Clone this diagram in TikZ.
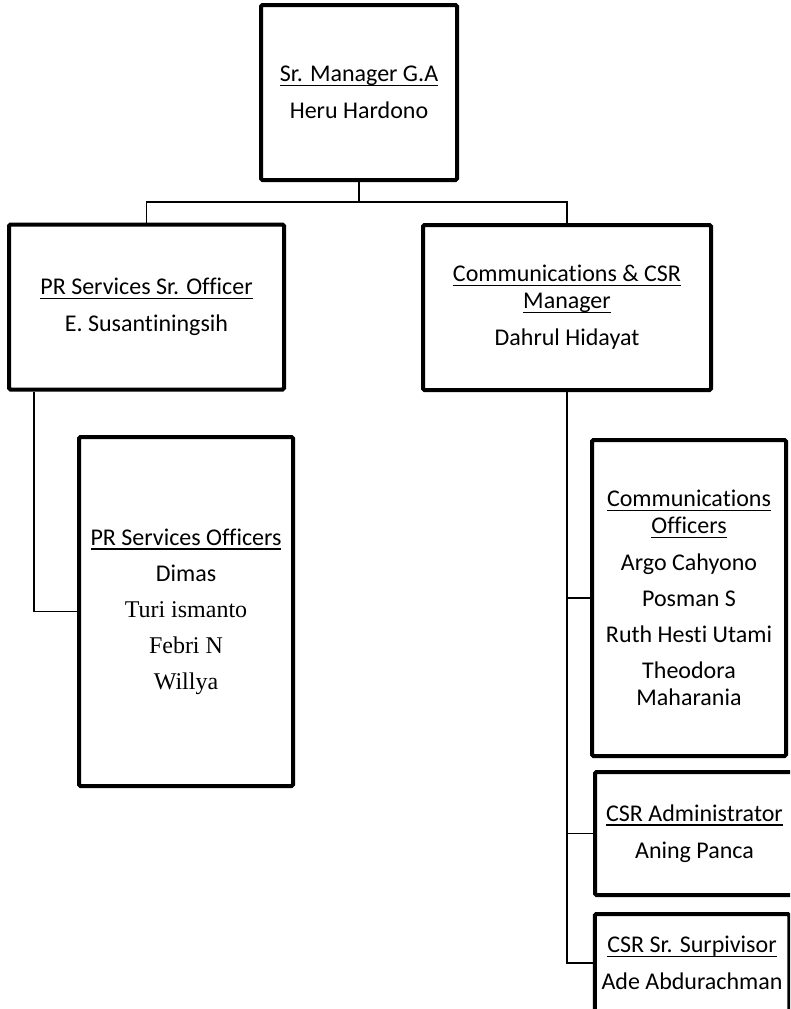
\documentclass[tikz,border=0pt]{standalone}
\usepackage{fontspec}
\setmainfont{Carlito}[Ligatures=NoCommon]
\newfontfamily\timesfont{Liberation Serif}
\usepackage{tikz}
\usetikzlibrary{positioning}

% heading underline, a bit heavier than \underline
\newcommand{\hd}[1]{\leavevmode\setbox0=\hbox{#1}\rlap{\vrule width\wd0 height -3pt depth 4.6pt}\box0}

\tikzset{
  unit/.style={draw, line width=4pt, rounded corners=1.5pt, inner sep=0pt,
    align=center, font=\fontsize{24}{27}\selectfont},
  link/.style={line width=1.5pt},
}

\begin{document}
\begin{tikzpicture}[x=1pt,y=-1pt]
    \useasboundingbox (0,0) rectangle (790,1009);
    \clip (0,0) rectangle (790,1009);
    \node[unit,minimum width=196pt,minimum height=175pt] (mgr_ga)   at (359,92.5)
        {\hd{Sr. Manager G.A}\\[10pt]Heru Hardono};
    \node[unit,minimum width=275pt,minimum height=165pt] (pr_sr)    at (146.5,307)
        {\hd{PR Services Sr. Officer}\\[10pt]E. Susantiningsih};
    \node[unit,minimum width=288pt,minimum height=165pt] (comm_mgr) at (567,307.5)
        {\hd{Communications \& CSR}\\\hd{Manager}\\[10pt]Dahrul Hidayat};
    \node[unit,minimum width=214pt,minimum height=349pt] (pr_off)   at (186,611.5)
        {\hd{PR Services Officers}\\[9pt]Dimas\\[9pt]{\timesfont Turi ismanto}\\[9pt]{\timesfont Febri N}\\[9pt]{\timesfont Willya}};
    \node[unit,minimum width=194pt,minimum height=316pt] (comm_off) at (689,598)
        {\hd{Communications}\\\hd{Officers}\\[10pt]Argo Cahyono\\[9pt]Posman S\\[9pt]Ruth Hesti Utami\\[9pt]Theodora\\Maharania};
    \node[unit,minimum width=199pt,minimum height=123pt] (csr_adm)  at (694.5,833.5)
        {\hd{CSR Administrator}\\[10pt]Aning Panca};
    \node[unit,minimum width=194.5pt,minimum height=98pt] (csr_sup) at (692,963)
        {\hd{CSR Sr. Surpivisor}\\[10pt]Ade Abdurachman};

    \coordinate (bus) at (359,202);
    \draw[link] (mgr_ga.south) -- (bus) -| (pr_sr.north);
    \draw[link] (bus) -| (comm_mgr.north);
    \draw[link] (pr_sr.south west) ++(27,0) |- (pr_off.west);
    \draw[link] (comm_mgr.south) |- (comm_off.west);
    \draw[link] (comm_mgr.south) |- (csr_adm.west);
    \draw[link] (comm_mgr.south) |- (csr_sup.west);
\end{tikzpicture}
\end{document}
